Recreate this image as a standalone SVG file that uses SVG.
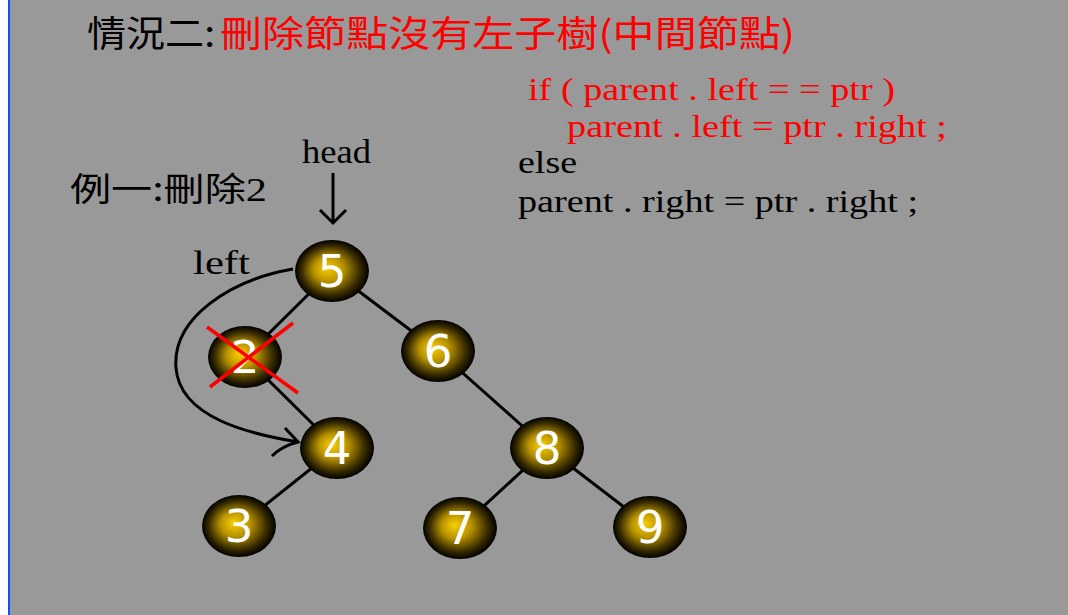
<svg xmlns="http://www.w3.org/2000/svg" width="1068" height="615" viewBox="0 0 1068 615">
<style>
.cjk{font-family:"Noto Sans CJK TC","Noto Sans CJK SC",sans-serif}
.serif{font-family:"Liberation Serif","Times New Roman",serif}
.num{font-family:"DejaVu Sans",Verdana,sans-serif;font-size:45px;fill:#fff;text-anchor:middle}
.edge{stroke:#000;stroke-width:3;fill:none}
.red{fill:#ff0000}
.blk{fill:#000}
</style>
<defs>
<radialGradient id="g" cx="0.5" cy="0.5" r="0.5" fx="0.42" fy="0.45">
<stop offset="0" stop-color="#f8d000"/>
<stop offset="0.4" stop-color="#b89200"/>
<stop offset="0.78" stop-color="#3a2d00"/>
<stop offset="1" stop-color="#000"/>
</radialGradient>
</defs>
<rect width="1068" height="615" fill="#999999"/>
<rect width="8" height="615" fill="#ffffff"/>
<rect x="8" width="2" height="615" fill="#1050ff"/>

<text class="cjk blk" x="87" y="47" font-size="36" textLength="128" lengthAdjust="spacingAndGlyphs">情況二:</text>
<text class="cjk red" x="220" y="47" font-size="36" textLength="575" lengthAdjust="spacingAndGlyphs">刪除節點沒有左子樹(中間節點)</text>

<g id="code" class="serif" font-size="32">
<text class="red" x="528" y="100" textLength="367" lengthAdjust="spacingAndGlyphs">if ( parent . left = = ptr )</text>
<text class="red" x="567" y="137" textLength="380" lengthAdjust="spacingAndGlyphs">parent . left = ptr . right ;</text>
<text class="blk" x="518" y="173" textLength="59" lengthAdjust="spacingAndGlyphs">else</text>
<text class="blk" x="518" y="212" textLength="400" lengthAdjust="spacingAndGlyphs">parent . right = ptr . right ;</text>
</g>

<text class="cjk blk" x="70" y="201" font-size="33" textLength="197" lengthAdjust="spacingAndGlyphs">例一:刪除<tspan class="serif" font-size="34">2</tspan></text>

<text class="serif blk" x="302" y="163" font-size="33" textLength="69" lengthAdjust="spacingAndGlyphs">head</text>
<text class="serif blk" x="193" y="274" font-size="33" textLength="57" lengthAdjust="spacingAndGlyphs">left</text>

<g id="connectors">
<line class="edge" x1="333" y1="173" x2="333" y2="222"/>
<polyline class="edge" points="320,210 333,223 346,210"/>
<line class="edge" x1="332" y1="271" x2="245" y2="357"/>
<line class="edge" x1="332" y1="271" x2="438" y2="351"/>
<line class="edge" x1="250" y1="362" x2="337" y2="448"/>
<line class="edge" x1="337" y1="448" x2="239" y2="526"/>
<line class="edge" x1="438" y1="351" x2="547" y2="448"/>
<line class="edge" x1="547" y1="448" x2="460" y2="528"/>
<line class="edge" x1="547" y1="448" x2="650" y2="527"/>
<path class="edge" d="M293 269 C230 280 172 318 176 368 C180 418 250 434 298 442"/>
<path class="edge" d="M285 428 L298 442 Q282 446 272 456"/>
</g>

<g id="n5"><ellipse cx="332" cy="271" rx="37" ry="31" fill="url(#g)"/><text class="num" x="332" y="287">5</text></g>
<g id="n2"><ellipse cx="245" cy="357" rx="37" ry="31" fill="url(#g)"/><text class="num" x="245" y="373">2</text></g>
<g id="n4"><ellipse cx="337" cy="448" rx="37" ry="31" fill="url(#g)"/><text class="num" x="337" y="464">4</text></g>
<g id="n3"><ellipse cx="239" cy="526" rx="37" ry="31" fill="url(#g)"/><text class="num" x="239" y="542">3</text></g>
<g id="n6"><ellipse cx="438" cy="351" rx="37" ry="31" fill="url(#g)"/><text class="num" x="438" y="367">6</text></g>
<g id="n8"><ellipse cx="547" cy="448" rx="37" ry="31" fill="url(#g)"/><text class="num" x="547" y="464">8</text></g>
<g id="n7"><ellipse cx="460" cy="528" rx="37" ry="31" fill="url(#g)"/><text class="num" x="460" y="544">7</text></g>
<g id="n9"><ellipse cx="650" cy="527" rx="37" ry="31" fill="url(#g)"/><text class="num" x="650" y="543">9</text></g>

<g id="cross" stroke="#ff0000" stroke-width="3.5">
<line x1="207" y1="327" x2="298" y2="393"/>
<line x1="293" y1="323" x2="210" y2="387"/>
</g>
</svg>
